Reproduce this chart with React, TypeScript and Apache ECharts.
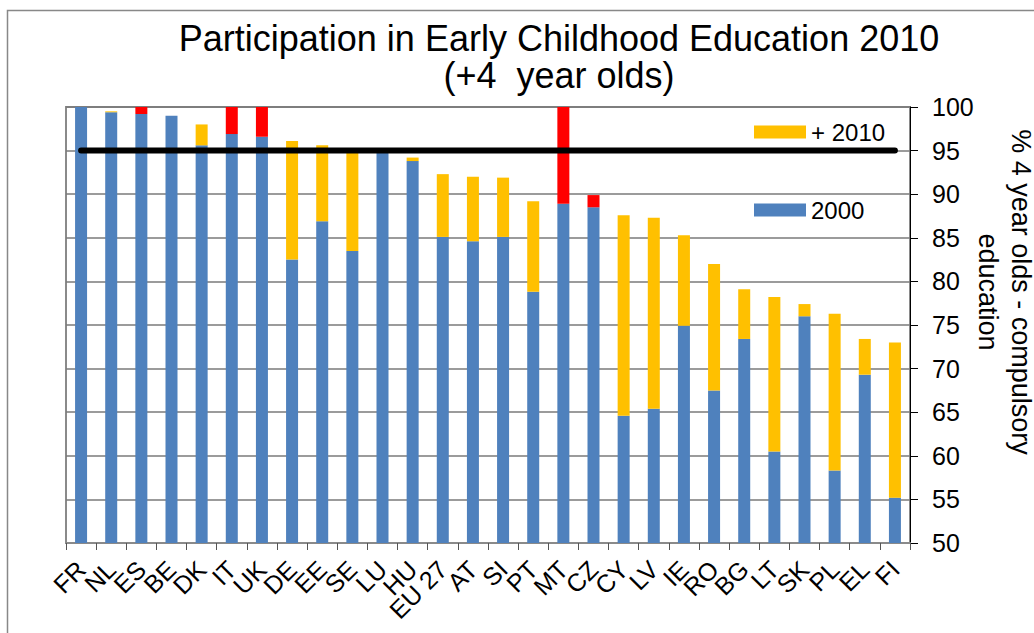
import React, { useEffect, useRef } from "react";
import * as echarts from "echarts";

const categories = ["FR", "NL", "ES", "BE", "DK", "IT", "UK", "DE", "EE", "SE", "LU", "HU", "EU 27", "AT", "SI", "PT", "MT", "CZ", "CY", "LV", "IE", "RO", "BG", "LT", "SK", "PL", "EL", "FI"];
const base2000 = [100, 99.4, 99.2, 99.0, 95.6, 96.9, 96.6, 82.5, 86.9, 83.5, 95.0, 93.8, 85.1, 84.6, 85.1, 78.8, 88.9, 88.5, 64.6, 65.4, 74.9, 67.5, 73.4, 60.5, 76.0, 58.3, 69.3, 55.2];
const increase2010 = [0, 0.1, 0, 0, 2.4, 0, 0, 13.6, 8.7, 11.5, 0, 0.4, 7.2, 7.4, 6.8, 10.4, 0, 0, 23.0, 21.9, 10.4, 14.5, 5.7, 17.7, 1.4, 18.0, 4.1, 17.8];
const decrease2010 = [0, 0, 0.8, 0, 0, 3.1, 3.4, 0, 0, 0, 0, 0, 0, 0, 0, 0, 11.1, 1.4, 0, 0, 0, 0, 0, 0, 0, 0, 0, 0];
const target = categories.map(() => 95);
const yTicks = { min: 50, max: 100, interval: 5 };

const FONT = "'Liberation Sans', Arial, sans-serif";

export default function App() {
  const ref = useRef<HTMLDivElement>(null);
  useEffect(() => {
    const chart = echarts.init(ref.current!, null, { renderer: "svg" });
    chart.setOption({
      animation: false,
      backgroundColor: "#ffffff",
      textStyle: { fontFamily: FONT },
      title: {
        text: "Participation in Early Childhood Education 2010\n(+4  year olds)",
        left: 559,
        top: 20,
        textAlign: "center",
        padding: 0,
        textStyle: { fontFamily: FONT, fontSize: 36, fontWeight: "normal", color: "#000", lineHeight: 37 },
      },
      legend: {
        orient: "vertical",
        left: 754,
        top: 120,
        itemWidth: 52,
        itemHeight: 13,
        itemGap: 54,
        selectedMode: false,
        padding: 0,
        data: [
          { name: "+ 2010", icon: "rect" },
          { name: "2000", icon: "rect" },
        ],
        textStyle: { fontFamily: FONT, fontSize: 24, color: "#000", lineHeight: 24 },
      },
      grid: {
        left: 66,
        right: 124,
        top: 107,
        bottom: 90,
        show: true,
        borderColor: "#8a8a8a",
        borderWidth: 2,
      },
      xAxis: {
        type: "category",
        data: categories,
        boundaryGap: true,
        axisLine: { show: true, lineStyle: { color: "#8a8a8a", width: 2 } },
        axisTick: { show: true, interval: 0, length: 7, lineStyle: { color: "#555" } },
        axisLabel: { interval: 0, rotate: 45, fontSize: 25, color: "#000", margin: 22, fontFamily: FONT },
      },
      yAxis: {
        type: "value",
        position: "right",
        min: yTicks.min,
        max: yTicks.max,
        interval: yTicks.interval,
        axisLine: { show: true, lineStyle: { color: "#000", width: 1 } },
        axisTick: { show: true, length: 8, lineStyle: { color: "#000" } },
        axisLabel: { fontSize: 25, color: "#000", margin: 22, fontFamily: FONT },
        splitLine: { show: true, lineStyle: { color: "#7a7a7a", width: 1.5 } },
      },
      graphic: [
        {
          type: "rect",
          shape: { x: 7.5, y: 10.5, width: 1200, height: 1000 },
          style: { fill: "none", stroke: "#888", lineWidth: 1.5 },
          z: -10,
        },
        {
          type: "text",
          x: 1004,
          y: 292,
          rotation: -Math.PI / 2,
          style: {
            text: "% 4 year olds - compulsory\neducation",
            fontSize: 27,
            fontFamily: FONT,
            fill: "#000",
            align: "center",
            verticalAlign: "middle",
            lineHeight: 33,
          },
        },
      ],
      series: [
        {
          name: "2000",
          type: "bar",
          stack: "total",
          barWidth: 12,
          data: base2000,
          itemStyle: { color: "#4F81BD" },
        },
        {
          name: "+ 2010",
          type: "bar",
          stack: "total",
          barWidth: 12,
          data: increase2010,
          itemStyle: { color: "#FFC000" },
        },
        {
          name: "decrease",
          type: "bar",
          stack: "total",
          barWidth: 12,
          data: decrease2010,
          itemStyle: { color: "#FF0000" },
        },
        {
          name: "target",
          type: "line",
          data: target,
          symbol: "none",
          lineStyle: { color: "#000", width: 6, cap: "round" },
          z: 5,
        },
      ],
    });
    return () => chart.dispose();
  }, []);
  return <div ref={ref} style={{ position: "fixed", left: 0, top: 0, width: 1034, height: 633 }} />;
}
